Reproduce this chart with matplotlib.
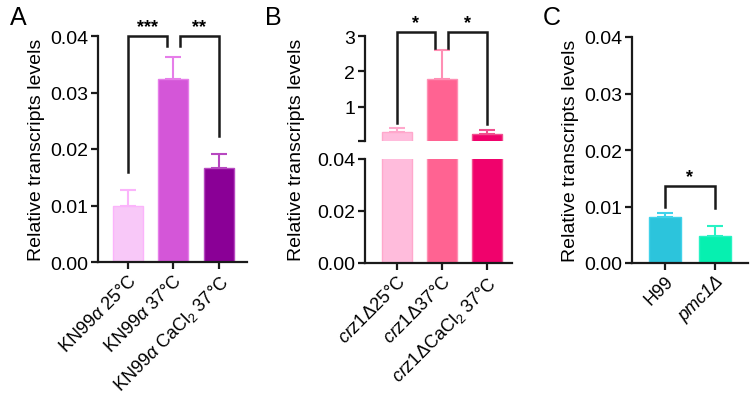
import numpy as np
import matplotlib
matplotlib.use('Agg')
import matplotlib.pyplot as plt

plt.rcParams['font.family'] = ['Liberation Sans', 'DejaVu Sans']
plt.rcParams['mathtext.fontset'] = 'custom'
plt.rcParams['mathtext.rm'] = 'Liberation Sans'
plt.rcParams['mathtext.it'] = 'Liberation Sans:italic'
plt.rcParams['mathtext.bf'] = 'Liberation Sans:bold'

# panel A
labels_a = [r'KN99$\alpha$ 25°C', r'KN99$\alpha$ 37°C', r'KN99$\alpha$ CaCl$_2$ 37°C']
mean_a = [0.0099, 0.0324, 0.0167]
err_a = [0.0028, 0.0038, 0.0025]
colors_a = ['#f8c8f8', '#d456d8', '#8a0096']
ecolors_a = ['#fbb4fb', '#e67ee9', '#b748c0']

# panel B
labels_b = [r'$\mathit{crz1}$Δ25°C', r'$\mathit{crz1}$Δ37°C', r'$\mathit{crz1}$ΔCaCl$_2$ 37°C']
mean_b = [0.30, 1.79, 0.25]
err_b = [0.11, 0.81, 0.11]
colors_b = ['#ffbcdc', '#ff6392', '#f0026c']
ecolors_b = ['#ffa8cc', '#ff8fb4', '#f0508f']

# panel C
labels_c = ['H99', 'pmc1Δ']
mean_c = [0.0081, 0.0048]
err_c = [0.0007, 0.0018]
colors_c = ['#2cc4dc', '#06f0b0']
ecolors_c = ['#40d2ea', '#28f2c4']

W, H = 7.55, 4.10
fig = plt.figure(figsize=(W, H), dpi=100)

LW = 1.6
INK = '#1a1a1a'
TICK_FS = 14
XLAB_FS = 13
YLAB_FS = 14


def style(ax, bottom=True):
    for s in ['top', 'right']:
        ax.spines[s].set_visible(False)
    ax.spines['left'].set_linewidth(LW)
    ax.spines['bottom'].set_linewidth(LW)
    ax.spines['left'].set_color(INK)
    ax.spines['bottom'].set_color(INK)
    if not bottom:
        ax.spines['bottom'].set_visible(False)
    ax.tick_params(axis='both', direction='out', length=5, width=LW, color=INK, pad=2)
    ax.tick_params(axis='y', labelsize=TICK_FS)
    ax.tick_params(axis='x', labelsize=XLAB_FS)


def draw_bars(ax, means, errs, colors, ecolors, width=0.66):
    x = np.arange(len(means))
    ax.bar(x, means, width=width, color=colors, edgecolor=ecolors, linewidth=1.0, zorder=2)
    for i in range(len(means)):
        ax.errorbar(x[i], means[i], yerr=[[0], [errs[i]]], fmt='none', ecolor=ecolors[i],
                    elinewidth=1.5, capsize=6, capthick=1.5, zorder=3)


def bracket(ax, x1, x2, y1, y2, top, text, fs=13):
    ax.plot([x1, x1, x2, x2], [y1, top, top, y2], color=INK, lw=LW + 0.2, clip_on=False,
            solid_joinstyle='miter', zorder=4)
    ax.annotate(text, xy=((x1 + x2) / 2, top), xytext=(0, 1), textcoords='offset points',
                ha='center', va='bottom', fontsize=fs, fontweight='bold', annotation_clip=False)


def px(x0, y0, x1, y1):
    return [x0 / 755, 1 - y1 / 410, (x1 - x0) / 755, (y1 - y0) / 410]


# ---- A
axA = fig.add_axes(px(98, 37, 247, 263))
style(axA)
draw_bars(axA, mean_a, err_a, colors_a, ecolors_a)
axA.set_xlim(-0.66, 2.62)
axA.set_ylim(0, 0.04)
axA.set_yticks([0, 0.01, 0.02, 0.03, 0.04])
axA.set_yticklabels(['0.00', '0.01', '0.02', '0.03', '0.04'])
axA.set_xticks(range(3))
axA.set_xticklabels(labels_a, rotation=45, ha='right', rotation_mode='anchor')
axA.set_ylabel('Relative transcripts levels', fontsize=YLAB_FS, labelpad=4)
bracket(axA, 0, 0.86, 0.0159, 0.0382, 0.04, '***')
bracket(axA, 1.14, 2, 0.0382, 0.0223, 0.04, '**')
fig.text(10 / 755, 1 - 18 / 410, 'A', fontsize=18, va='center', ha='left')

# ---- B (broken axis)
axB1 = fig.add_axes(px(365, 160, 512, 264))
axB2 = fig.add_axes(px(365, 37, 512, 142))
style(axB1)
style(axB2, bottom=False)
xb = np.arange(3)
axB1.bar(xb, mean_b, width=0.66, color=colors_b, edgecolor=ecolors_b, linewidth=1.0, zorder=2)
axB1.set_ylim(0, 0.04)
axB1.set_yticks([0, 0.02, 0.04])
axB1.set_yticklabels(['0.00', '0.02', '0.04'])
axB1.set_xlim(-0.71, 2.55)
axB1.set_xticks(range(3))
axB1.set_xticklabels(labels_b, rotation=45, ha='right', rotation_mode='anchor')
axB1.set_ylabel('Relative transcripts levels', fontsize=YLAB_FS)
axB1.yaxis.set_label_coords(-0.41, 1.1)

axB2.bar(xb, mean_b, width=0.66, color=colors_b, edgecolor=ecolors_b,
         linewidth=1.0, zorder=2)
for i in range(3):
    axB2.errorbar(xb[i], mean_b[i], yerr=[[0], [err_b[i]]], fmt='none', ecolor=ecolors_b[i],
                  elinewidth=1.5, capsize=6, capthick=1.5, zorder=3)
axB2.set_ylim(0.04, 3)
axB2.set_xlim(-0.71, 2.55)
axB2.set_yticks([0.04, 1, 2, 3])
axB2.set_yticklabels(['', '1', '2', '3'])
axB2.set_xticks([])
bracket(axB2, 0, 0.84, 0.56, 2.66, 3.1, '*')
bracket(axB2, 1.13, 2, 2.66, 0.53, 3.1, '*')
fig.text(265 / 755, 1 - 18 / 410, 'B', fontsize=18, va='center', ha='left')

# ---- C
axC = fig.add_axes(px(632, 38, 748, 264))
style(axC)
draw_bars(axC, mean_c, err_c, colors_c, ecolors_c, width=0.64)
axC.set_xlim(-0.66, 1.66)
axC.set_ylim(0, 0.04)
axC.set_yticks([0, 0.01, 0.02, 0.03, 0.04])
axC.set_yticklabels(['0.00', '0.01', '0.02', '0.03', '0.04'])
axC.set_xticks(range(2))
axC.set_xticklabels(labels_c, rotation=45, ha='right', rotation_mode='anchor')
axC.get_xticklabels()[1].set_fontstyle('italic')
axC.set_ylabel('Relative transcripts levels', fontsize=YLAB_FS, labelpad=4)
bracket(axC, 0, 1, 0.0099, 0.0097, 0.0136, '*')
fig.text(543 / 755, 1 - 18 / 410, 'C', fontsize=18, va='center', ha='left')

fig.savefig('out.png', dpi=100)
